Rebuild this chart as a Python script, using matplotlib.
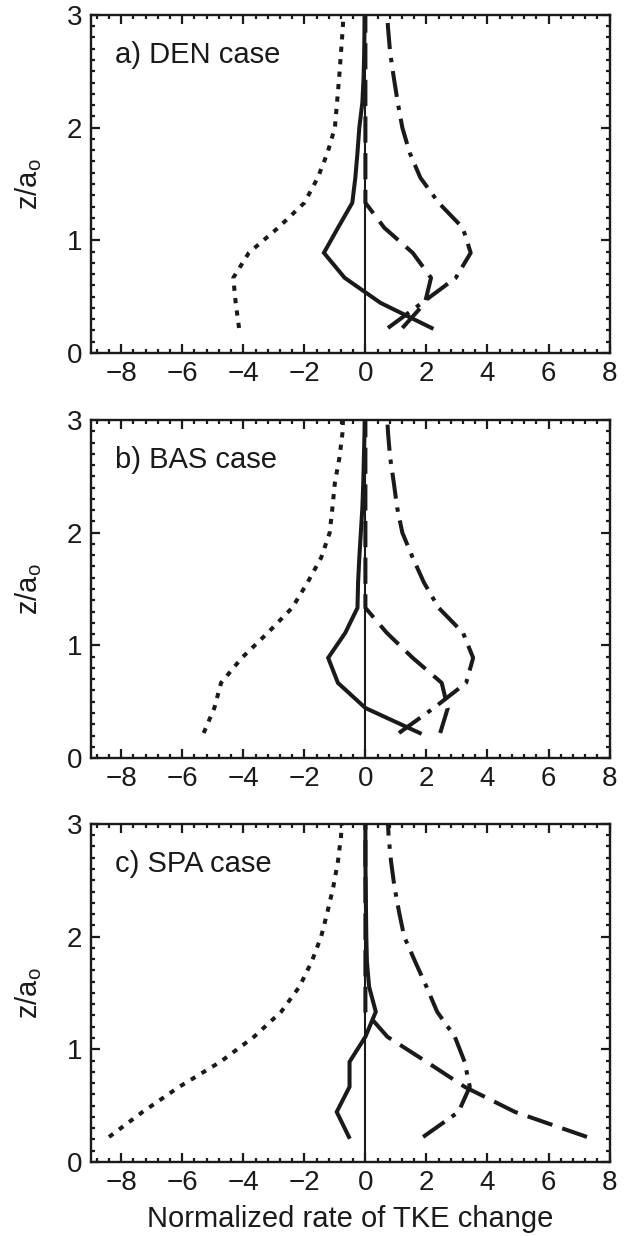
import numpy as np
import matplotlib
matplotlib.use("Agg")
import matplotlib.pyplot as plt
from matplotlib.ticker import MultipleLocator

plt.rcParams['font.family'] = ['Liberation Sans', 'DejaVu Sans']
plt.rcParams['mathtext.default'] = 'regular'

INK = '#1a1a1a'

# heights of the profile levels (z/a_o)
z_levels = [0.222, 0.444, 0.667, 0.889, 1.111, 1.333, 1.556,
            1.778, 2.000, 2.222, 2.444, 2.667, 2.889, 3.111]

panel_titles = ['a) DEN case', 'b) BAS case', 'c) SPA case']

# normalized rate of TKE change, one list per term and case
solid_vals = [
    [2.17, 0.50, -0.68, -1.36, -0.90, -0.43, -0.33, -0.26, -0.20, -0.10, -0.06, -0.04, -0.03, -0.03],
    [1.78, 0.00, -0.90, -1.22, -0.66, -0.26, -0.24, -0.20, -0.15, -0.10, -0.07, -0.05, -0.03, -0.02],
    [-0.54, -0.94, -0.52, -0.52, 0.00, 0.34, 0.12, 0.05, 0.03, 0.02, 0.01, 0.00, 0.00, 0.00],
]
dotted_vals = [
    [-4.14, -4.25, -4.33, -3.82, -2.86, -2.00, -1.56, -1.24, -1.00, -0.93, -0.86, -0.80, -0.74, -0.70],
    [-5.30, -4.95, -4.73, -4.05, -3.20, -2.40, -1.90, -1.45, -1.17, -1.08, -1.00, -0.85, -0.75, -0.72],
    [-8.40, -7.30, -6.10, -4.75, -3.65, -2.76, -2.16, -1.76, -1.45, -1.24, -1.05, -0.90, -0.80, -0.75],
]
dashed_vals = [
    [1.21, 1.95, 2.15, 1.55, 0.62, 0.00, 0.00, 0.00, 0.00, 0.00, 0.00, 0.00, 0.00, 0.00],
    [2.45, 2.70, 2.50, 1.55, 0.70, 0.00, 0.00, 0.00, 0.00, 0.00, 0.00, 0.00, 0.00, 0.00],
    [7.26, 4.90, 3.25, 2.00, 0.72, 0.00, 0.00, 0.00, 0.00, 0.00, 0.00, 0.00, 0.00, 0.00],
]
dashdot_vals = [
    [0.74, 1.85, 2.96, 3.45, 3.19, 2.40, 1.80, 1.45, 1.21, 1.06, 0.93, 0.81, 0.74, 0.70],
    [1.10, 2.24, 3.30, 3.53, 3.20, 2.40, 1.92, 1.55, 1.21, 1.04, 0.93, 0.81, 0.74, 0.70],
    [1.89, 3.05, 3.42, 3.25, 2.93, 2.35, 2.00, 1.63, 1.27, 1.10, 0.95, 0.84, 0.76, 0.72],
]

x_ticks = [-8, -6, -4, -2, 0, 2, 4, 6, 8]
y_ticks = [0, 1, 2, 3]

fig = plt.figure(figsize=(6.27, 12.36), dpi=100)
left, width, height = 0.1447, 0.8275, 0.2735
bottoms = [0.7144, 0.3867, 0.0599]

lw = 2.9
for i in range(3):
    ax = fig.add_axes([left, bottoms[i], width, height])
    ax.plot(solid_vals[i], z_levels, color=INK, lw=lw, solid_joinstyle='miter')
    ax.plot(dotted_vals[i], z_levels, color=INK, lw=lw, dashes=(1.3, 1.8),
            dash_capstyle='butt')
    ax.plot(dashed_vals[i], z_levels, color=INK, lw=lw, dashes=(6.5, 2.6),
            dash_capstyle='butt')
    ax.plot(dashdot_vals[i], z_levels, color=INK, lw=lw, dashes=(6.5, 2.2, 1.1, 2.2),
            dash_capstyle='butt')
    ax.axvline(0, color=INK, lw=1.5)

    ax.set_xlim(-9, 8)
    ax.set_ylim(0, 3)
    ax.set_xticks(x_ticks)
    ax.set_xticklabels([str(t).replace('-', '\u2212') for t in x_ticks])
    ax.set_yticks(y_ticks)
    ax.xaxis.set_minor_locator(MultipleLocator(0.4))
    ax.yaxis.set_minor_locator(MultipleLocator(0.1))
    ax.tick_params(which='both', direction='in', top=True, right=True,
                   width=1.6, color=INK, labelsize=20, labelcolor=INK)
    ax.tick_params(which='major', length=6.5, pad=6)
    ax.tick_params(which='minor', length=3.2)
    for sp in ax.spines.values():
        sp.set_linewidth(1.7)
        sp.set_color(INK)

    ax.set_ylabel('z/a$_{o}$', fontsize=21, color=INK)
    ax.yaxis.set_label_coords(-0.09, 0.5)
    ax.text(0.046, 0.857, panel_titles[i], transform=ax.transAxes,
            fontsize=21, color=INK, va='baseline', ha='left')

    if i == 2:
        ax.set_xlabel('Normalized rate of TKE change', fontsize=21, color=INK,
                      labelpad=6)

fig.savefig('out.png', dpi=100)
